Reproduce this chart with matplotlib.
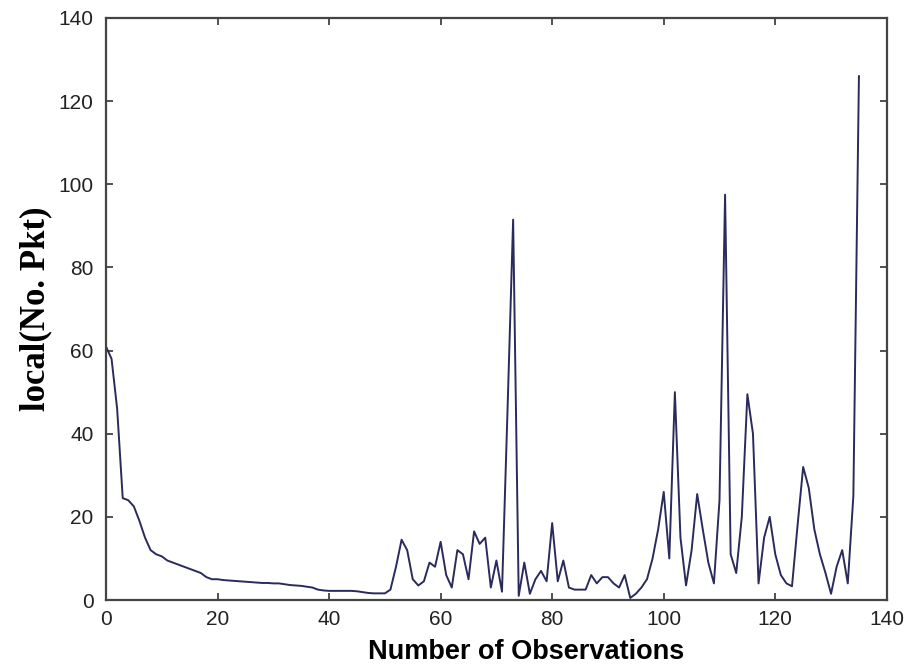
import matplotlib
matplotlib.use('Agg')
import matplotlib.pyplot as plt
import numpy as np

head_vals = [61, 58, 46, 24.5, 24, 22.5, 19, 15, 12, 11,
             10.5, 9.5, 9, 8.5, 8, 7.5, 7, 6.5, 5.5, 5,
             5, 4.8, 4.7, 4.6, 4.5, 4.4, 4.3, 4.2, 4.1, 4.1,
             4, 4, 3.8, 3.6, 3.5, 3.4, 3.2, 3, 2.5, 2.3,
             2.2, 2.2, 2.2, 2.2, 2.2, 2.1, 1.9, 1.7, 1.6, 1.6]
mid_vals = [1.6, 2.5, 8, 14.5, 12, 5, 3.5, 4.5, 9, 8,
            14, 6, 3, 12, 11, 5, 16.5, 13.5, 15, 3,
            9.5, 2, 46, 91.5, 1, 9, 1.5, 5, 7, 4.5,
            18.5, 4.5, 9.5, 3, 2.5, 2.5, 2.5, 6, 4, 5.5,
            5.5, 4, 3, 6, 0.5, 1.5, 3, 5, 10, 17]
tail_vals = [26, 10, 50, 15, 3.5, 12, 25.5, 17, 9, 4,
             24, 97.5, 11, 6.5, 20, 49.5, 40, 4, 15, 20,
             11, 6, 4, 3.3, 18, 32, 27, 17, 11, 6.5,
             1.5, 8, 12, 4, 25, 126]

pkt = head_vals + mid_vals + tail_vals
obs = np.arange(len(pkt))

x_ticks = [0, 20, 40, 60, 80, 100, 120, 140]
y_ticks = [0, 20, 40, 60, 80, 100, 120, 140]

fig = plt.figure(figsize=(9.09, 6.71), dpi=100)
ax = fig.add_axes([0.1166, 0.1058, 0.859, 0.8674])
ax.plot(obs, pkt, color='#2a2a5c', linewidth=1.4)

ax.set_xlim(0, 140)
ax.set_ylim(0, 140)
ax.set_xticks(x_ticks)
ax.set_yticks(y_ticks)
ax.tick_params(direction='in', top=True, right=True, length=5, width=1.2,
               labelsize=15, color='#333333', labelcolor='#222222')
ax.tick_params(axis='x', pad=7)
ax.tick_params(axis='y', pad=9)
for lbl in ax.get_xticklabels() + ax.get_yticklabels():
    lbl.set_family('Liberation Sans')
for sp in ax.spines.values():
    sp.set_linewidth(1.6)
    sp.set_color('#444444')

ax.set_xlabel('Number of Observations', family='Liberation Sans', weight='bold',
              fontsize=19.5)
ax.xaxis.set_label_coords(0.538, -0.067)
ax.set_ylabel('local(No. Pkt)', family='Liberation Serif', weight='bold',
              fontsize=25, labelpad=4)

fig.savefig('out.png', dpi=100)
